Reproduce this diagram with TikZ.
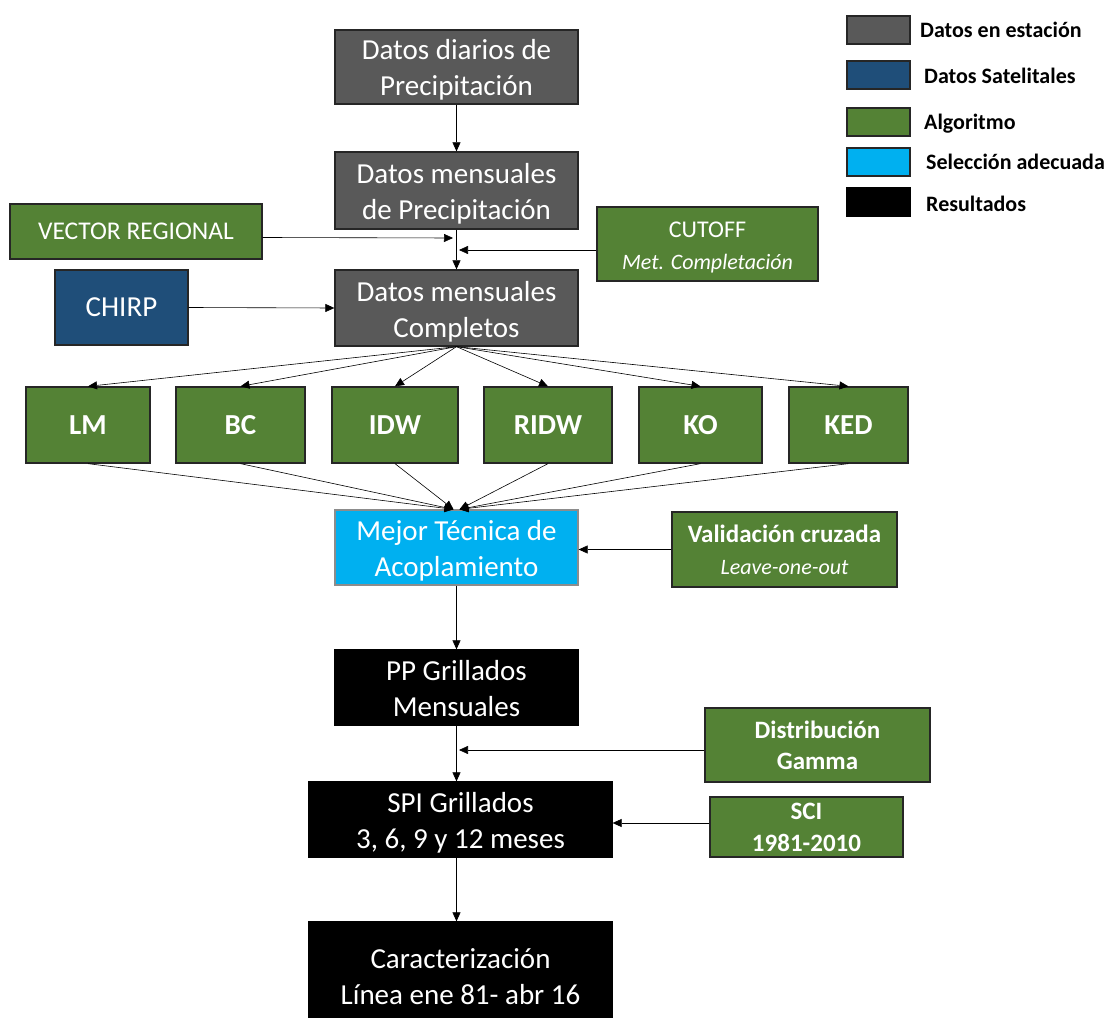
\documentclass[tikz,border=0pt]{standalone}
\usepackage{fontspec}
\setmainfont{Carlito}
\usetikzlibrary{arrows.meta}
\definecolor{cgray}{HTML}{595959}
\definecolor{cblue}{HTML}{1F4E79}
\definecolor{cgreen}{HTML}{548235}
\definecolor{ccyan}{HTML}{00B0F0}
\definecolor{cedge}{HTML}{262626}
\definecolor{cedgel}{HTML}{8C8C8C}
\newcommand{\lowerby}[1]{\rule{0pt}{#1}}
\begin{document}
\begin{tikzpicture}[x=1pt,y=-1pt,
  box/.style={draw=cedge,line width=1.3pt,inner sep=0pt,align=center,text=white,
    font=\fontsize{29}{36}\selectfont},
  gbox/.style={box,fill=cgray},
  grbox/.style={box,fill=cgreen},
  bkbox/.style={box,fill=black,draw=black},
  meth/.style={grbox,font=\fontsize{29}{36}\selectfont\bfseries,minimum height=76},
  legbox/.style={draw=cedge,line width=1.3pt,minimum width=63,minimum height=28,inner sep=0pt},
  legtxt/.style={anchor=west,inner sep=0pt,font=\fontsize{22}{26}\selectfont\bfseries},
  ln/.style={draw=black,line width=0.6pt,-{Triangle[length=9pt,width=8pt]}}]
\useasboundingbox (0,0) rectangle (1112,1019);

% legend
\node[legbox,fill=cgray] (l1) at (878.5,30) {};
\node[legtxt] (t1) at (920,30) {Datos en estación};
\node[legbox,fill=cblue] (l2) at (878.5,75) {};
\node[legtxt] (t2) at (924,76) {Datos Satelitales};
\node[legbox,fill=cgreen] (l3) at (878.5,122) {};
\node[legtxt] (t3) at (924,124) {Algoritmo};
\node[legbox,fill=ccyan] (l4) at (878.5,162) {};
\node[legtxt] (t4) at (926,162) {Selección adecuada};
\node[legbox,fill=black,draw=black] (l5) at (878.5,202) {};
\node[legtxt] (t5) at (926,204) {Resultados};

% main chain
\node[gbox,minimum width=243,minimum height=74] (d1) at (456.5,67) {\lowerby{26.5pt}Datos diarios de\\Precipitación};
\node[gbox,minimum width=243,minimum height=77] (d2) at (456.5,190.5) {\lowerby{26.5pt}Datos mensuales\\de Precipitación};
\node[grbox,minimum width=252,minimum height=55,font=\fontsize{25.5}{30}\selectfont] (vr) at (136,231.5) {VECTOR REGIONAL};
\node[grbox,minimum width=221,minimum height=74,font=\fontsize{24}{32}\selectfont] (cut) at (707.5,244) {\lowerby{23.5pt}CUTOFF\\{\fontsize{22}{32}\selectfont\itshape Met. Completación}};
\node[box,fill=cblue,minimum width=133,minimum height=75] (chirp) at (121.5,307.5) {CHIRP};
\node[gbox,minimum width=243,minimum height=76] (d3) at (456.5,308) {\lowerby{27.5pt}Datos mensuales\\Completos};

\node[meth,minimum width=124] (lm) at (88,425) {LM};
\node[meth,minimum width=129] (bc) at (240.5,425) {BC};
\node[meth,minimum width=126] (idw) at (395,425) {IDW};
\node[meth,minimum width=128] (ridw) at (548,425) {RIDW};
\node[meth,minimum width=123] (ko) at (700.5,425) {KO};
\node[meth,minimum width=119] (ked) at (848.5,425) {KED};

\node[box,fill=ccyan,draw=cedgel,minimum width=243,minimum height=75] (best) at (456.5,547.5) {\lowerby{27pt}Mejor Técnica de\\Acoplamiento};
\node[grbox,minimum width=225,minimum height=75,font=\fontsize{25}{32}\selectfont\bfseries] (val) at (784.5,549.5) {Validación cruzada\\{\fontsize{22}{32}\selectfont\mdseries\itshape Leave-one-out}};

\node[bkbox,minimum width=243,minimum height=75] (pp) at (456.5,687.5) {\lowerby{22.5pt}PP Grillados\\Mensuales};
\node[grbox,minimum width=225,minimum height=74,font=\fontsize{25}{31}\selectfont\bfseries] (gam) at (817.5,745) {Distribución\\Gamma};
\node[bkbox,minimum width=303,minimum height=75] (spi) at (460.5,819.5) {\lowerby{26.5pt}SPI Grillados\\3, 6, 9 y 12 meses};
\node[grbox,minimum width=193,minimum height=60,font=\fontsize{25}{32}\selectfont\bfseries] (sci) at (806.5,827) {SCI\\1981-2010};
\node[bkbox,minimum width=303,minimum height=95] (car) at (460.5,969.5) {\lowerby{34.5pt}Caracterización\\Línea ene 81- abr 16};

% free ends
\coordinate (vrend) at (453,238);
\coordinate (cutend) at (459,250);
\coordinate (gamend) at (459,750);

% connectors
\draw[ln] (d1.south) -- (d2.north);
\draw[ln] (d2.south) -- (d3.north);
\draw[ln] ([yshift=-6pt]vr.east) -- (vrend);
\draw[ln] ([yshift=-6pt]cut.west) -- (cutend);
\draw[ln] (chirp.east) -- (d3.west);

\foreach \m in {lm,bc,idw,ridw,ko,ked}
  \draw[ln] (d3.south) -- (\m.north);
\foreach \m in {lm,bc,idw}
  \draw[ln] (\m.south) -- ([xshift=-3pt]best.north);
\foreach \m in {ridw,ko,ked}
  \draw[ln] (\m.south) -- ([xshift=3pt]best.north);

\draw[ln] (val.west) -- (val.west -| best.east);
\draw[ln] (best.south) -- (pp.north);
\draw[ln] (pp.south) -- (pp.south |- spi.north);
\draw[ln] ([yshift=-5pt]gam.west) -- (gamend);
\draw[ln] ([yshift=4pt]sci.west) -- ([yshift=4pt]sci.west -| spi.east);
\draw[ln] (spi.south -| pp.south) -- (car.north -| pp.south);
\end{tikzpicture}
\end{document}
